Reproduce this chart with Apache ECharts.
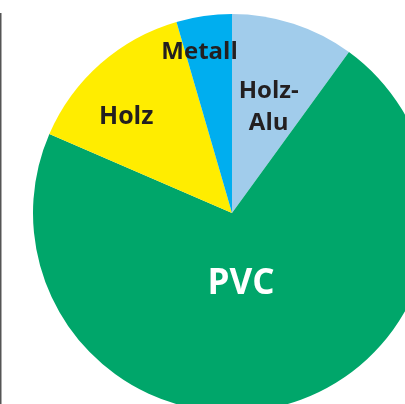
<!DOCTYPE html>
<html>
<head>
<meta charset="utf-8">
<script src="https://cdn.jsdelivr.net/npm/echarts@6/dist/echarts.min.js"></script>
<style>
html,body{margin:0;padding:0;background:#fff;}
#c{width:405px;height:404px;}
</style>
</head>
<body>
<div id="c"></div>
<script>
const categories = ['Holz-Alu', 'PVC', 'Holz', 'Metall'];
const values = [10, 71.5, 14, 4.5];
const labelTexts = ['Holz-\nAlu', 'PVC', 'Holz', 'Metall'];

const colors = ['#A1CCEB', '#00A66A', '#FFED00', '#00AEEF'];
const labelStyles = [
  {offset: [5, -8], color: '#231F20', fontSize: 24, lineHeight: 32},
  {offset: [-18, -28], color: '#ffffff', fontSize: 35, lineHeight: 40},
  {offset: [-38, -19], color: '#231F20', fontSize: 25, lineHeight: 28},
  {offset: [-18, -59], color: '#231F20', fontSize: 24, lineHeight: 28}
];

const chart = echarts.init(document.getElementById('c'), null, {renderer: 'canvas'});
chart.setOption({
  animation: false,
  backgroundColor: '#ffffff',
  graphic: [{
    type: 'line',
    shape: {x1: 0.75, y1: 13, x2: 0.75, y2: 404},
    style: {stroke: '#555555', lineWidth: 1.5},
    silent: true
  }],
  series: [{
    type: 'pie',
    center: [232, 213],
    radius: 199,
    startAngle: 90,
    clockwise: true,
    silent: true,
    avoidLabelOverlap: false,
    itemStyle: {borderWidth: 0},
    labelLine: {show: false},
    data: categories.map((c, i) => ({
      name: c,
      value: values[i],
      itemStyle: {color: colors[i]},
      label: {
        show: true,
        position: 'inside',
        formatter: labelTexts[i],
        fontFamily: 'Open Sans',
        fontWeight: 'bold',
        fontSize: labelStyles[i].fontSize,
        lineHeight: labelStyles[i].lineHeight,
        color: labelStyles[i].color,
        offset: labelStyles[i].offset,
        align: 'center',
        verticalAlign: 'middle'
      }
    }))
  }]
});
</script>
</body>
</html>
